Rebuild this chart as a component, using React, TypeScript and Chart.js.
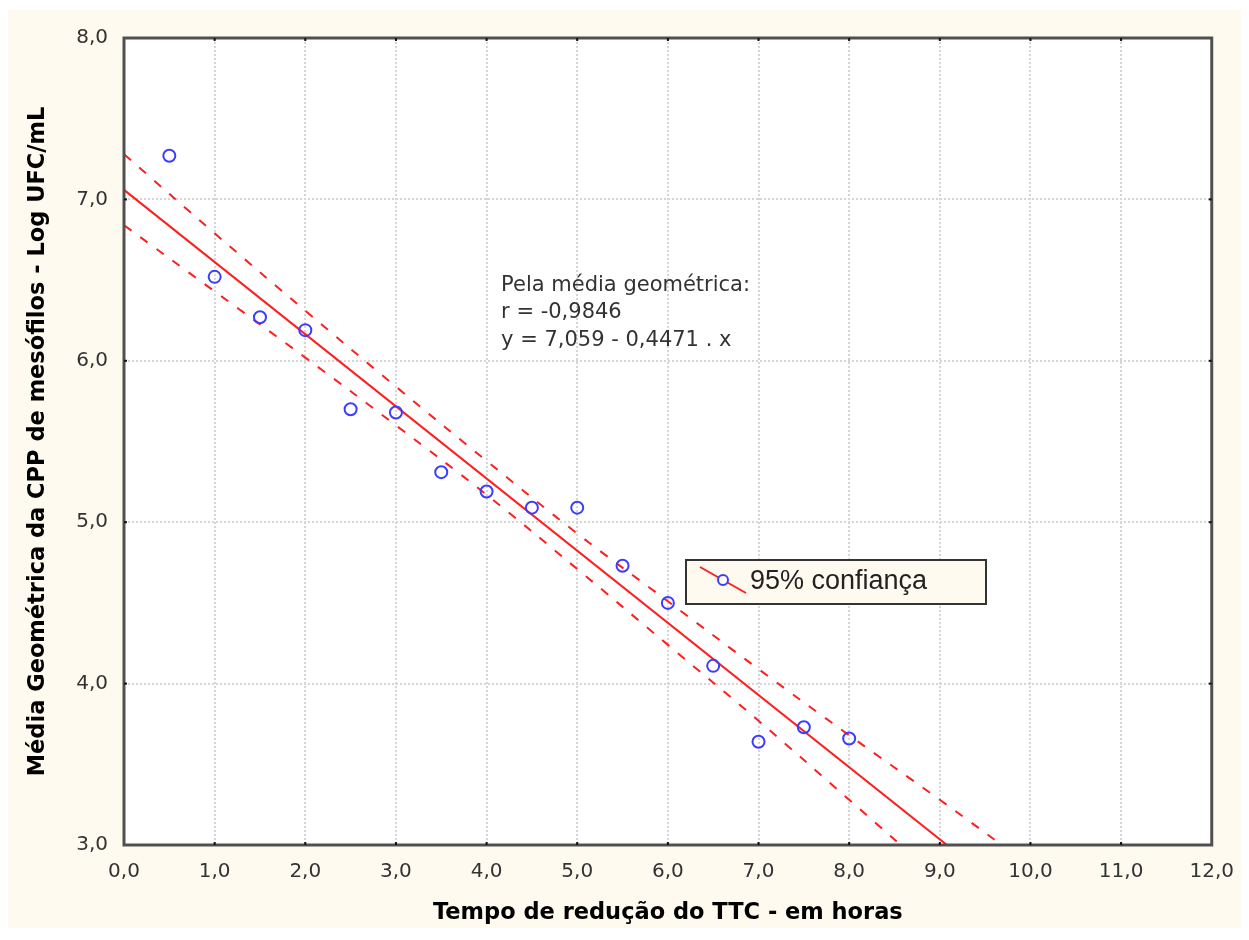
import React, { useEffect, useRef } from "react";
import { Chart, registerables } from "chart.js";

Chart.register(...registerables);

// Observed data (hours, log UFC/mL)
const timeHours = [0.5, 1.0, 1.5, 2.0, 2.5, 3.0, 3.5, 4.0, 4.5, 5.0, 5.5, 6.0, 6.5, 7.0, 7.5, 8.0];
const logCounts = [7.27, 6.52, 6.27, 6.19, 5.70, 5.68, 5.31, 5.19, 5.09, 5.09, 4.73, 4.50, 4.11, 3.64, 3.73, 3.66];

const fitX = [0, 10];
const fitY = [7.059, 2.588];

// 95% confidence bands
const bandX = [0, 1, 2, 3, 4, 5, 6, 7, 8, 9, 10];
const upperBand = [7.28, 6.79, 6.31, 5.84, 5.38, 4.93, 4.51, 4.09, 3.68, 3.28, 2.87];
const lowerBand = [6.84, 6.43, 6.02, 5.60, 5.17, 4.71, 4.24, 3.77, 3.28, 2.79, 2.31];

// Axes
const xMin = 0, xMax = 12, xStep = 1;
const yMin = 3, yMax = 8, yStep = 1;
const xTitle = "Tempo de redução do TTC - em horas";
const yTitle = "Média Geométrica da CPP de mesófilos - Log UFC/mL";

// Annotation
const noteLines = ["Pela média geométrica:", "r = -0,9846", "y = 7,059 - 0,4471 . x"];
const noteAnchorX = 4.16;
const noteAnchorY = 6.434;
const legendLabel = "95% confiança";

const CREAM = "#fffaef";
const RED = "rgb(255,30,30)";
const BLUE = "rgb(60,60,255)";

const fmt = (v: number) => v.toFixed(1).replace(".", ",");
const zip = (xs: number[], ys: number[]) => xs.map((x, i) => ({ x, y: ys[i] }));

const plotBgPlugin = {
  id: "plotBg",
  beforeDraw(chart: any) {
    const { ctx, chartArea: a } = chart;
    ctx.save();
    ctx.fillStyle = "#ffffff";
    ctx.fillRect(a.left, a.top, a.right - a.left, a.bottom - a.top);
    ctx.restore();
  },
};

const framePlugin = {
  id: "frame",
  afterDraw(chart: any) {
    const { ctx, chartArea: a, scales } = chart;
    ctx.save();
    ctx.strokeStyle = "#505050";
    ctx.lineWidth = 3;
    ctx.strokeRect(a.left, a.top, a.right - a.left, a.bottom - a.top);
    ctx.fillStyle = "#111";
    for (let v = xMin + xStep; v < xMax; v += xStep) {
      const px = scales.x.getPixelForValue(v);
      ctx.fillRect(px - 1, a.bottom - 3, 2, 3);
      ctx.fillRect(px - 1, a.top, 2, 3);
    }
    for (let v = yMin + yStep; v < yMax; v += yStep) {
      const py = scales.y.getPixelForValue(v);
      ctx.fillRect(a.left, py - 1, 3, 2);
      ctx.fillRect(a.right - 3, py - 1, 3, 2);
    }
    ctx.restore();
  },
};

const notePlugin = {
  id: "note",
  afterDatasetsDraw(chart: any) {
    const { ctx, scales } = chart;
    const x = scales.x.getPixelForValue(noteAnchorX);
    const y0 = scales.y.getPixelForValue(noteAnchorY);
    ctx.save();
    ctx.font = "21px 'DejaVu Sans'";
    ctx.fillStyle = "#333";
    ctx.textBaseline = "alphabetic";
    ctx.textAlign = "left";
    noteLines.forEach((t, i) => ctx.fillText(t, x, y0 + i * 27.5));
    ctx.restore();
  },
};

const legendPlugin = {
  id: "boxLegend",
  afterDraw(chart: any) {
    const { ctx, chartArea: a } = chart;
    const bx = a.left + 562;
    const by = a.top + 522;
    const bw = 300;
    const bh = 44;
    ctx.save();
    ctx.fillStyle = CREAM;
    ctx.fillRect(bx, by, bw, bh);
    ctx.strokeStyle = "#333";
    ctx.lineWidth = 2;
    ctx.strokeRect(bx, by, bw, bh);
    ctx.strokeStyle = RED;
    ctx.lineWidth = 2;
    ctx.beginPath();
    ctx.moveTo(bx + 14, by + 7);
    ctx.lineTo(bx + 60, by + 33);
    ctx.stroke();
    ctx.fillStyle = CREAM;
    ctx.strokeStyle = BLUE;
    ctx.beginPath();
    ctx.arc(bx + 37, by + 20, 5, 0, Math.PI * 2);
    ctx.fill();
    ctx.stroke();
    ctx.font = "27px 'Liberation Sans', Arial";
    ctx.fillStyle = "#222";
    ctx.textBaseline = "middle";
    ctx.fillText(legendLabel, bx + 64, by + 22);
    ctx.restore();
  },
};

export default function App() {
  const ref = useRef<HTMLCanvasElement | null>(null);

  useEffect(() => {
    if (!ref.current) return;
    const tickFont = { family: "'DejaVu Sans'", size: 20 };
    const titleFont = { family: "'DejaVu Sans'", size: 22.5, weight: "bold" as const };
    const chart = new Chart(ref.current, {
      type: "scatter",
      data: {
        datasets: [
          {
            label: "Dados",
            data: zip(timeHours, logCounts),
            showLine: false,
            pointStyle: "circle",
            pointRadius: 6,
            pointBorderWidth: 2,
            pointBackgroundColor: "rgba(255,255,255,0)",
            pointBorderColor: BLUE,
          },
          {
            label: "Regressão",
            data: zip(fitX, fitY),
            showLine: true,
            borderColor: RED,
            borderWidth: 2,
            pointRadius: 0,
          },
          {
            label: "Superior",
            data: zip(bandX, upperBand),
            showLine: true,
            borderColor: RED,
            borderWidth: 2,
            borderDash: [9, 11],
            pointRadius: 0,
            tension: 0.4,
          },
          {
            label: "Inferior",
            data: zip(bandX, lowerBand),
            showLine: true,
            borderColor: RED,
            borderWidth: 2,
            borderDash: [9, 11],
            pointRadius: 0,
            tension: 0.4,
          },
        ],
      },
      options: {
        responsive: false,
        animation: false,
        events: [],
        layout: { padding: { top: 24, right: 31, left: 0, bottom: 0 } },
        plugins: {
          legend: { display: false },
          tooltip: { enabled: false },
          title: { display: false },
        },
        scales: {
          x: {
            type: "linear",
            min: xMin,
            max: xMax,
            ticks: {
              stepSize: xStep,
              callback: (v: any) => fmt(Number(v)),
              font: tickFont,
              color: "#333",
              padding: 15,
              maxRotation: 0,
            },
            grid: { color: "#d6d6d6", lineWidth: 2, drawTicks: false },
            border: { display: false, dash: [2, 2] },
            title: {
              display: true,
              text: xTitle,
              font: titleFont,
              color: "#000",
              padding: { top: 0, bottom: 3 },
            },
            afterFit: (s: any) => {
              s.height = 85;
            },
          },
          y: {
            type: "linear",
            min: yMin,
            max: yMax,
            ticks: {
              stepSize: yStep,
              callback: (v: any) => fmt(Number(v)),
              font: tickFont,
              color: "#333",
              padding: 16,
            },
            grid: { color: "#d6d6d6", lineWidth: 2, drawTicks: false },
            border: { display: false, dash: [2, 2] },
            title: {
              display: true,
              text: yTitle,
              font: titleFont,
              color: "#000",
              padding: { top: 17, bottom: 0 },
            },
            afterFit: (s: any) => {
              s.width = 116;
            },
          },
        },
      },
      plugins: [plotBgPlugin, notePlugin, framePlugin, legendPlugin],
    });
    return () => chart.destroy();
  }, []);

  return (
    <div style={{ position: "relative", top: 2, width: 1241, height: 920, background: CREAM }}>
      <canvas ref={ref} width={1241} height={920} style={{ display: "block", width: 1241, height: 920 }} />
    </div>
  );
}
